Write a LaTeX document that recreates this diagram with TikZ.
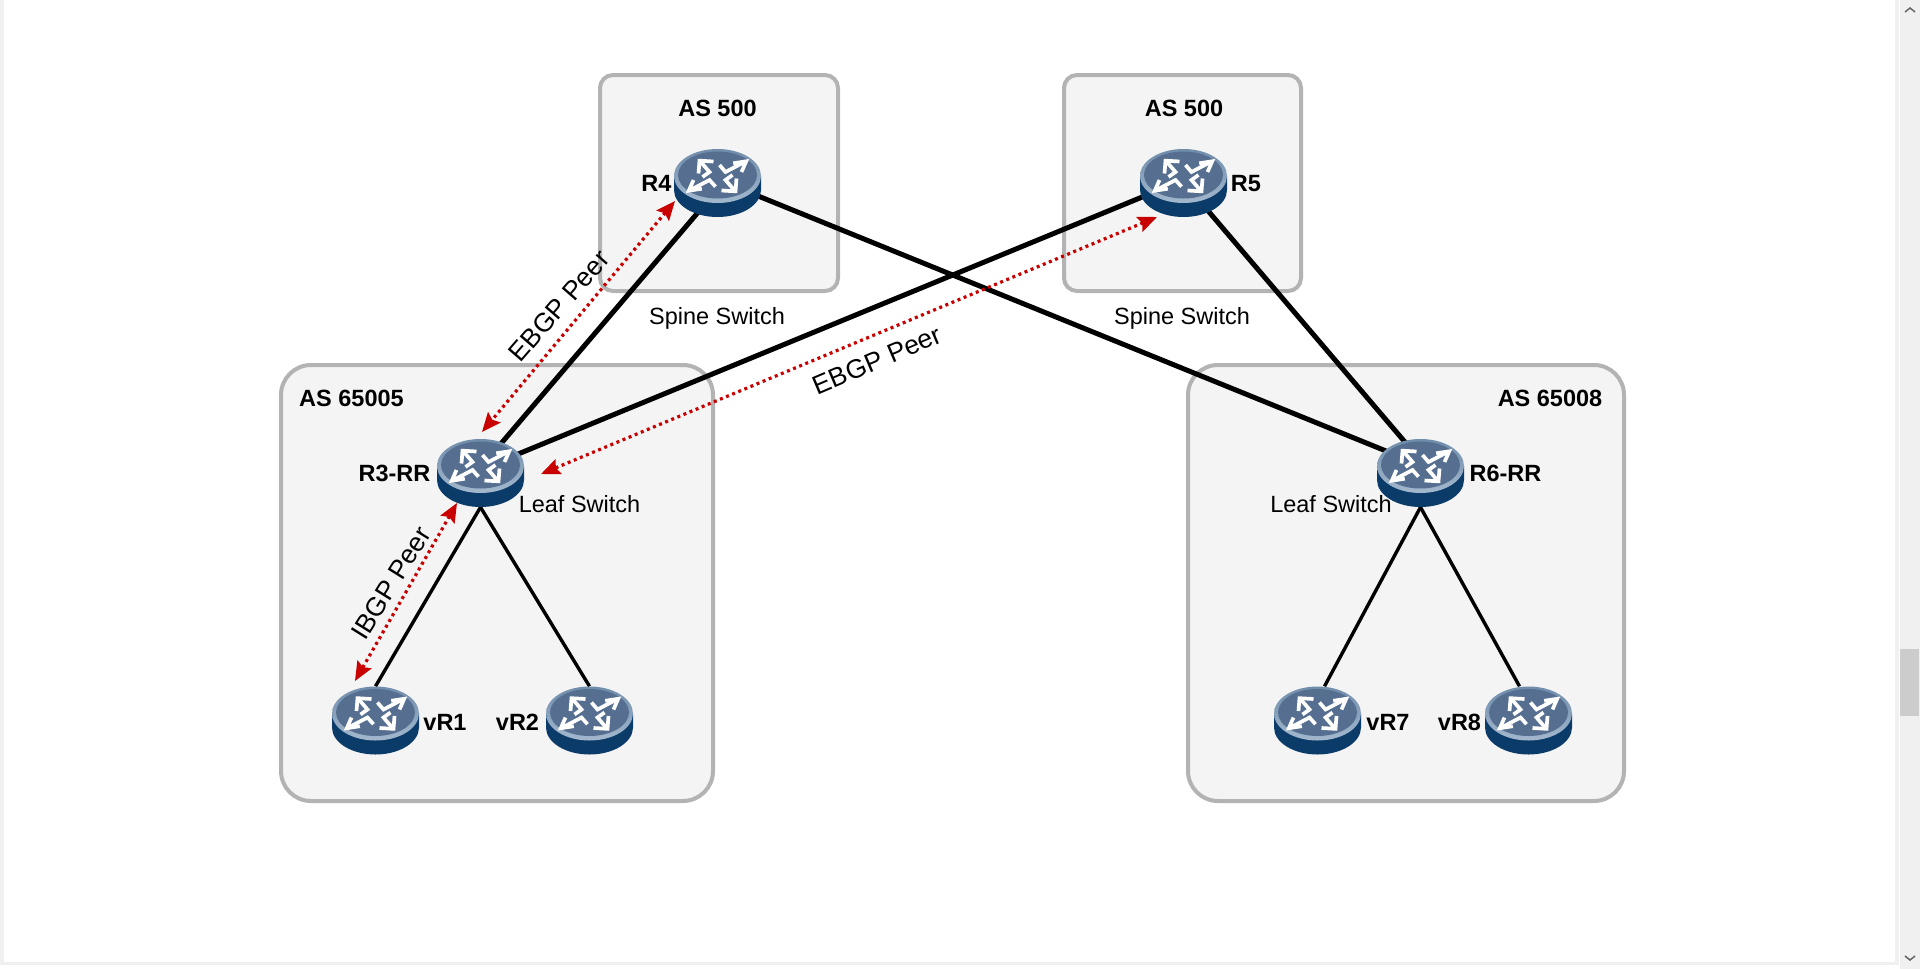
\documentclass[tikz,border=0pt]{standalone}
\usepackage{fontspec}
\setmainfont{Liberation Sans}
\usetikzlibrary{arrows.meta}
\definecolor{framegray}{HTML}{B3B3B3}
\definecolor{panelgray}{HTML}{F4F4F4}
\definecolor{bodyblue}{HTML}{0B3B69}
\definecolor{faceblue}{HTML}{566F90}
\definecolor{rimdark}{HTML}{6F8CAB}
\definecolor{rimlight}{HTML}{A3B8CD}
\definecolor{peerred}{HTML}{C80000}
\definecolor{gutter}{HTML}{F0F0F0}
\tikzset{
  panel/.style={draw=framegray,fill=panelgray,line width=4pt},
  spot/.style={inner sep=0pt,minimum width=87pt,minimum height=68pt},
  trunk/.style={line width=5pt,black},
  access/.style={line width=3.4pt,black},
  peer/.style={peerred,line width=3.2pt,dash pattern=on 3pt off 3.6pt,
    {Stealth[length=19pt,width=16pt,inset=3pt,sep=0pt]}-{Stealth[length=19pt,width=16pt,inset=3pt,sep=0pt]}},
  bold label/.style={font=\fontsize{23.5}{28}\selectfont\bfseries,inner sep=0pt},
  plain label/.style={font=\fontsize{23.5}{28}\selectfont,inner sep=0pt},
  slanted label/.style={font=\fontsize{26.5}{30}\selectfont,inner sep=0pt},
  glyph/.style={draw=white,line width=3.7pt,miter limit=8},
  router/.pic={
    % drum body and top face
    \fill[bodyblue] (-43.5,-7) -- (-43.5,7) arc[start angle=180,end angle=0,x radius=43.5,y radius=27] -- (43.5,-7) -- cycle;
    \shade[top color=rimdark,bottom color=rimlight] (0,-7) ellipse[x radius=43.5,y radius=27];
    \fill[faceblue] (0,-8) ellipse[x radius=39.5,y radius=23.5];
    % four bent arrows
    \draw[glyph] (2,-18) -- (8,-11) -- (28,-21.5);
    \draw[glyph] (15.7,-19.7) -- (28.7,-21.7) -- (24,-11);
    \draw[glyph] (-2,3.7) -- (-8,-3) -- (-28,7.5);
    \draw[glyph] (-15.7,5.7) -- (-28.7,7.7) -- (-24,-3);
    \draw[glyph] (-15,-6) -- (-8,-11) -- (-17.5,-22);
    \draw[glyph] (-4,-21.5) -- (-18,-22.3) -- (-19,-9.5);
    \draw[glyph] (15,-8) -- (8,-3) -- (17.5,8);
    \draw[glyph] (4,7.5) -- (18,8.3) -- (19,-4.5);
  },
}
\begin{document}
\begin{tikzpicture}[x=1pt,y=-1pt]
\useasboundingbox (0,0) rectangle (1920,969);
\fill[white] (0,0) rectangle (1920,969);

% window gutters and scroll bar
\fill[gutter] (0,0) rectangle (4,965);
\fill[gutter] (0,962) rectangle (1899,965);
\fill[gutter] (1895,0) rectangle (1899,965);
\fill[gutter] (1900,0) rectangle (1920,969);
\fill[black!20] (1900,649) rectangle (1919,716);
\draw[black!60,line width=1.5pt] (1905,12) -- (1910,8) -- (1915,12);
\draw[black!60,line width=1.5pt] (1905,956) -- (1910,960) -- (1915,956);

% autonomous system panels
\draw[panel,rounded corners=13pt] (600,75) rectangle (838,291);
\draw[panel,rounded corners=13pt] (1064,75) rectangle (1301,291);
\draw[panel,rounded corners=30pt] (281,365) rectangle (713,801);
\draw[panel,rounded corners=30pt] (1188,365) rectangle (1624,801);

% router positions
\node[spot] (r4) at (717.5,183) {};
\node[spot] (r5) at (1183.5,183) {};
\node[spot] (r3) at (480.5,473) {};
\node[spot] (r6) at (1420.5,473) {};
\node[spot] (vr1) at (375.5,720.5) {};
\node[spot] (vr2) at (589.5,720.5) {};
\node[spot] (vr7) at (1317.5,720.5) {};
\node[spot] (vr8) at (1528.5,720.5) {};

% links
\draw[trunk] ([shift={(3,3)}]r4.center) -- ([shift={(-2,-3)}]r3.center);
\draw[trunk] ([yshift=3.5pt]r4.center) -- ([yshift=8pt]r6.center);
\draw[trunk] ([yshift=3pt]r5.center) -- ([yshift=3.5pt]r3.center);
\draw[trunk] ([yshift=1pt]r5.center) -- ([shift={(4,-8)}]r6.center);
\draw[access] (r3.south) -- (vr1.north);
\draw[access] (r3.south) -- (vr2.north);
\draw[access] (r6.south) -- ([xshift=7pt]vr7.north);
\draw[access] (r6.south) -- ([xshift=-9pt]vr8.north);

% routers drawn over the link ends
\foreach \n in {r4,r5,r3,r6,vr1,vr2,vr7,vr8} \pic at (\n.center) {router};

% BGP peerings
\draw[peer] ([shift={(-42.5,18)}]r4.center) -- ([shift={(1.5,-41)}]r3.center);
\draw[peer] ([shift={(-26.5,34)}]r5.center) -- ([shift={(60.5,1)}]r3.center);
\draw[peer] ([shift={(-23.5,30)}]r3.center) -- ([shift={(-20.5,-39.5)}]vr1.center);

% labels
\node[bold label] (t500a) at (717.5,108) {AS 500};
\node[bold label] (t500b) at (1184,108) {AS 500};
\node[bold label] (t65005) at (351.5,398) {AS 65005};
\node[bold label] (t65008) at (1550,398) {AS 65008};
\node[bold label] (lr4) at (656.5,183) {R4};
\node[bold label] (lr5) at (1246,184) {R5};
\node[bold label] (lr3) at (394.5,473) {R3-RR};
\node[bold label] (lr6) at (1505.5,473) {R6-RR};
\node[bold label] (lv1) at (445,722) {vR1};
\node[bold label] (lv2) at (517.5,722) {vR2};
\node[bold label] (lv7) at (1388,722) {vR7};
\node[bold label] (lv8) at (1459.5,722) {vR8};
\node[plain label] (sa) at (717,318) {Spine Switch};
\node[plain label] (sb) at (1182,318) {Spine Switch};
\node[plain label] (la) at (579.5,504) {Leaf Switch};
\node[plain label] (lb) at (1331,504) {Leaf Switch};
\node[slanted label,rotate=49] (e1) at (559,306) {EBGP Peer};
\node[slanted label,rotate=23] (e2) at (877,360) {EBGP Peer};
\node[slanted label,rotate=58] (i1) at (391,583) {IBGP Peer};
\end{tikzpicture}
\end{document}
